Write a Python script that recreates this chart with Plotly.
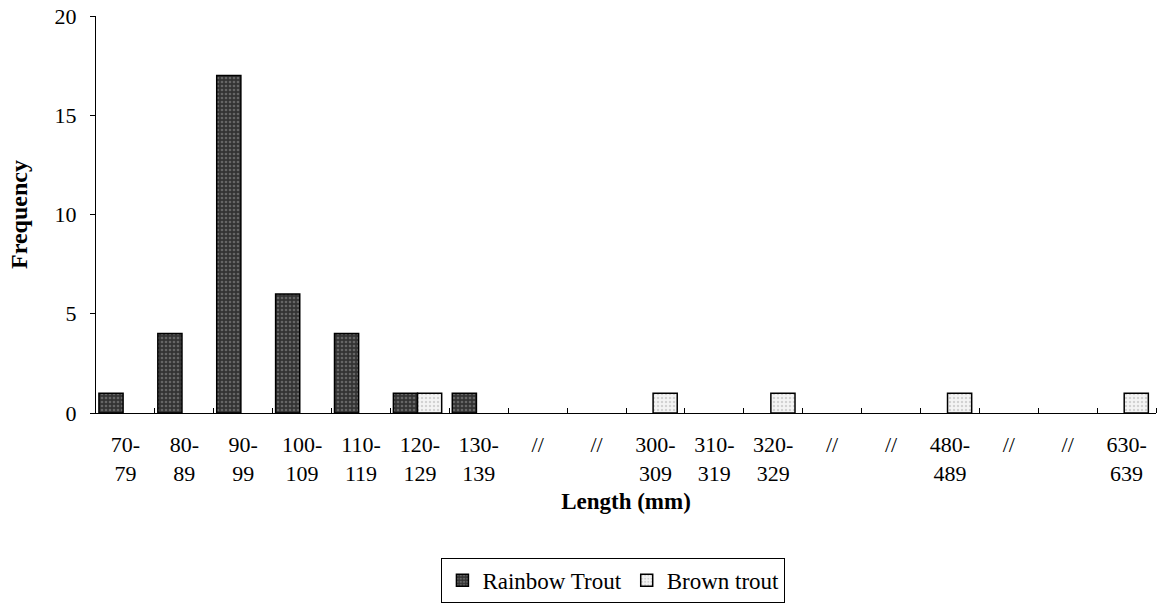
import plotly.graph_objects as go

length_classes = [
    "70-<br>79", "80-<br>89", "90-<br>99", "100-<br>109", "110-<br>119",
    "120-<br>129", "130-<br>139", "//", "//", "300-<br>309", "310-<br>319",
    "320-<br>329", "//", "//", "480-<br>489", "//", "//", "630-<br>639",
]
rainbow_trout = [1, 4, 17, 6, 4, 1, 1, 0, 0, 0, 0, 0, 0, 0, 0, 0, 0, 0]
brown_trout = [0, 0, 0, 0, 0, 1, 0, 0, 0, 1, 0, 1, 0, 0, 1, 0, 0, 1]

FONT = "Liberation Serif, Times New Roman, serif"
slots = list(range(len(length_classes)))


def _drawn(values):
    # empty classes are left blank, like the original
    return [v if v else None for v in values]


fig = go.Figure()
fig.add_trace(
    go.Bar(
        x=slots,
        y=_drawn(rainbow_trout),
        name="Rainbow Trout",
        width=0.41,
        offset=-0.45,
        marker={
            "color": "#333333",
            "line": {"color": "black", "width": 1.5},
            "pattern": {"shape": ".", "fgcolor": "#9a9a9a", "size": 4, "solidity": 0.35},
        },
    )
)
fig.add_trace(
    go.Bar(
        x=slots,
        y=_drawn(brown_trout),
        name="Brown trout",
        width=0.41,
        offset=-0.04,
        marker={
            "color": "#f4f4f4",
            "line": {"color": "black", "width": 1.5},
            "pattern": {"shape": ".", "fgcolor": "#b0b0b0", "size": 4, "solidity": 0.3},
        },
    )
)

fig.update_layout(
    width=1164,
    height=613,
    margin={"l": 96, "r": 8, "t": 16, "b": 200, "autoexpand": False},
    plot_bgcolor="white",
    paper_bgcolor="white",
    font={"family": FONT, "size": 22, "color": "black"},
    barmode="overlay",
    showlegend=True,
    legend={
        "orientation": "h",
        "xref": "container",
        "yref": "container",
        "x": 0.527,
        "xanchor": "center",
        "y": 0.09,
        "yanchor": "top",
        "bordercolor": "black",
        "borderwidth": 1,
        "font": {"family": FONT, "size": 23},
        "itemwidth": 30,
    },
)
fig.update_xaxes(
    range=[-0.5, len(length_classes) - 0.5],
    tickmode="array",
    tickvals=slots,
    ticktext=length_classes,
    ticks="",
    ticklabelstandoff=12,
    automargin=False,
    showline=True,
    linecolor="black",
    linewidth=1,
    showgrid=False,
    zeroline=False,
    minor={
        "tickmode": "array",
        "tickvals": [s + 0.5 for s in slots],
        "ticks": "inside",
        "ticklen": 5,
        "tickcolor": "black",
        "showgrid": False,
    },
    title={"text": "<b>Length (mm)</b>", "font": {"family": FONT, "size": 23}, "standoff": 7},
)
fig.update_yaxes(
    range=[0, 20],
    tickvals=[0, 5, 10, 15, 20],
    ticks="outside",
    ticklen=5,
    tickcolor="black",
    ticklabelstandoff=9,
    ticklabeloverflow="allow",
    automargin=False,
    showline=True,
    linecolor="black",
    linewidth=1,
    showgrid=False,
    zeroline=False,
    title={"text": "<b>Frequency</b>", "font": {"family": FONT, "size": 24}, "standoff": 20},
)

# drop the page's default body margin so the figure fills the window
fig.write_html(
    "out.html",
    config={"displayModeBar": False},
    post_script="document.body.style.margin = '0';",
)
